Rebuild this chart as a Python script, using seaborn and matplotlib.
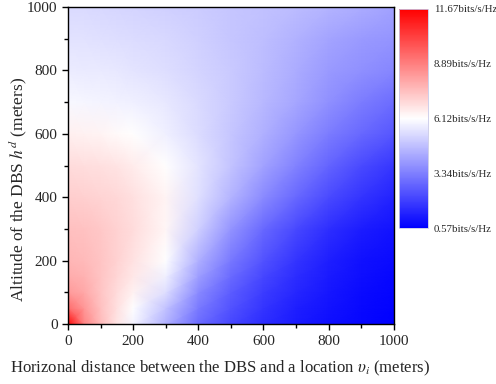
import numpy as np
import matplotlib
matplotlib.use("Agg")
import matplotlib.pyplot as plt
import seaborn as sns
from matplotlib.colors import Normalize
from matplotlib.ticker import MultipleLocator

# Horizontal distance (m) and altitude (m) sample positions
x_dist = [0, 50, 100, 150, 200, 300, 400, 500, 600, 700, 800, 900, 1000]
h_alt = [0, 50, 100, 150, 200, 300, 400, 500, 600, 700, 800, 900, 1000]

# Spectral efficiency (bits/s/Hz), one row per altitude
se_h0 = [11.6, 8.8, 7.6, 6.7, 5.9, 4.4, 2.9, 2.1, 1.55, 1.15, 0.9, 0.72, 0.6]
se_h50 = [9.3, 8.4, 7.5, 6.8, 6.1, 4.8, 3.25, 2.35, 1.7, 1.25, 0.97, 0.76, 0.63]
se_h100 = [8.3, 8.0, 7.4, 6.9, 6.4, 5.4, 3.6, 2.6, 1.9, 1.4, 1.05, 0.8, 0.68]
se_h150 = [7.9, 7.8, 7.4, 7.0, 6.6, 5.8, 4.0, 2.9, 2.1, 1.55, 1.15, 0.88, 0.74]
se_h200 = [7.7, 7.6, 7.4, 7.1, 6.75, 6.1, 4.4, 3.2, 2.35, 1.7, 1.25, 0.95, 0.8]
se_h300 = [7.5, 7.45, 7.3, 7.1, 6.9, 6.3, 5.1, 3.8, 2.85, 2.15, 1.6, 1.2, 0.97]
se_h400 = [7.2, 7.15, 7.05, 6.95, 6.8, 6.35, 5.45, 4.5, 3.6, 2.85, 2.2, 1.7, 1.35]
se_h500 = [6.9, 6.85, 6.8, 6.7, 6.55, 6.15, 5.55, 4.85, 4.1, 3.4, 2.75, 2.2, 1.75]
se_h600 = [6.45, 6.42, 6.35, 6.25, 6.15, 5.8, 5.35, 4.9, 4.4, 3.85, 3.3, 2.85, 2.45]
se_h700 = [5.95, 5.93, 5.9, 5.85, 5.78, 5.6, 5.3, 4.95, 4.6, 4.2, 3.7, 3.3, 2.95]
se_h800 = [5.7, 5.68, 5.65, 5.6, 5.55, 5.4, 5.2, 4.95, 4.65, 4.3, 3.95, 3.7, 3.5]
se_h900 = [5.5, 5.48, 5.45, 5.42, 5.38, 5.28, 5.1, 4.9, 4.7, 4.45, 4.15, 3.95, 3.8]
se_h1000 = [5.3, 5.3, 5.28, 5.25, 5.2, 5.1, 5.0, 4.9, 4.8, 4.65, 4.5, 4.3, 4.1]

cbar_ticks = [0.57, 3.34, 6.12, 8.89, 11.67]

se = np.array([se_h0, se_h50, se_h100, se_h150, se_h200, se_h300, se_h400,
               se_h500, se_h600, se_h700, se_h800, se_h900, se_h1000])

sns.set_style("ticks")
plt.rcParams['font.family'] = ['Liberation Serif', 'DejaVu Serif']
plt.rcParams['mathtext.fontset'] = 'stix'

fig = plt.figure(figsize=(4.96, 3.84), dpi=100)
ax = fig.add_axes([0.137, 0.156, 0.657, 0.826])
cax = fig.add_axes([0.804, 0.406, 0.059, 0.571])

norm = Normalize(vmin=cbar_ticks[0], vmax=cbar_ticks[-1])
mesh = ax.pcolormesh(x_dist, h_alt, se, cmap='bwr', norm=norm,
                     shading='gouraud', rasterized=True)

ax.set_xlim(0, 1000)
ax.set_ylim(0, 1000)
ax.xaxis.set_major_locator(MultipleLocator(200))
ax.yaxis.set_major_locator(MultipleLocator(200))
ax.xaxis.set_minor_locator(MultipleLocator(100))
ax.yaxis.set_minor_locator(MultipleLocator(100))
ax.tick_params(which='major', direction='out', length=4, width=1,
               labelsize=11, color='black')
ax.tick_params(which='minor', direction='out', length=3, width=1, color='black')
for s in ax.spines.values():
    s.set_color('black')
    s.set_linewidth(1.0)

ax.set_xlabel(r"Horizonal distance between the DBS and a location $\upsilon_i$ (meters)",
              fontsize=12)
ax.set_ylabel(r"Altitude of the DBS $h^d$ (meters)", fontsize=12.5)
ax.xaxis.set_label_coords(0.466, -0.139)
ax.yaxis.set_label_coords(-0.153, 0.423)
ax.xaxis.label.set_verticalalignment('center')
ax.yaxis.label.set_verticalalignment('center')

cb = fig.colorbar(mesh, cax=cax, ticks=cbar_ticks)
cb.outline.set_edgecolor('#c8c8e8')
cb.outline.set_linewidth(0.6)
cb.ax.set_yticklabels([f"{t:.2f}bits/s/Hz" for t in cbar_ticks])
cb.ax.tick_params(length=0, labelsize=7.8, pad=4)

fig.savefig("out.png", dpi=100)
